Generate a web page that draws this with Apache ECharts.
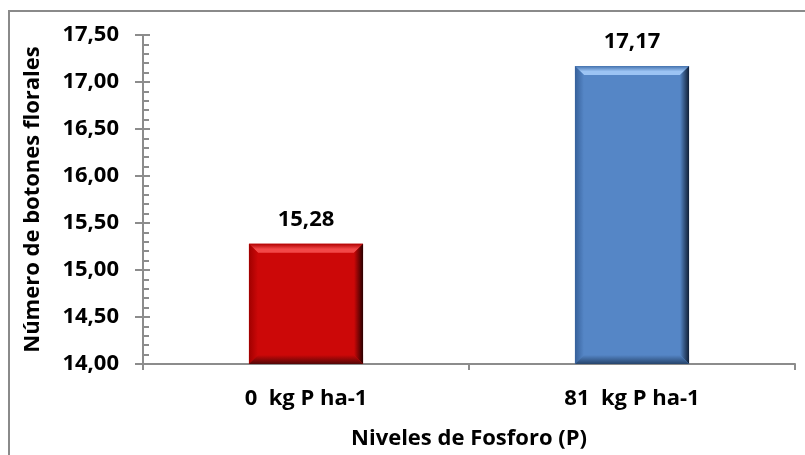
<!DOCTYPE html>
<html>
<head>
<meta charset="utf-8">
<title>Número de botones florales</title>
<script src="https://cdn.jsdelivr.net/npm/echarts@6/dist/echarts.min.js"></script>
<style>
  html, body { margin: 0; padding: 0; background: #ffffff; }
  #chart { width: 805px; height: 455px; }
</style>
</head>
<body>
<div id="chart"></div>
<script>
// Phosphorus levels and the mean number of flower buds per level
const categories = ['0  kg P ha-1', '81  kg P ha-1'];
const values = [15.28, 17.17];

// Axis range and step
const yMin = 14;
const yMax = 17.5;
const yStep = 0.5;

// Bevelled bar palettes: face, top highlight, top edge, left edge, right edge, bottom edge
const palettes = [
  { face: '#CC0808', hi: '#F24848', topEdge: '#B00000', left: '#A00000', right: '#2A0000', bottom: '#520606' },
  { face: '#5586C6', hi: '#9CC4F4', topEdge: '#4472AE', left: '#36609A', right: '#101F36', bottom: '#26446C' }
];

const FONT = '"Open Sans", "Noto Sans", sans-serif';
const AXIS_GREY = '#8C8C8C';
const fmt = v => v.toFixed(2).replace('.', ',');

function grad(x1, y1, x2, y2, stops) {
  return new echarts.graphic.LinearGradient(x1, y1, x2, y2,
    stops.map(s => ({ offset: s[0], color: s[1] })));
}

function renderBar(params, api) {
  const idx = api.value(0);
  const val = api.value(1);
  const topPt = api.coord([idx, val]);
  const basePt = api.coord([idx, yMin]);
  const w = api.size([1, 0])[0] * 0.35;
  const l = topPt[0] - w / 2;
  const r = topPt[0] + w / 2;
  const t = topPt[1];
  const b = basePt[1];
  const d = Math.min(9, w / 2, (b - t) / 2);
  const p = palettes[idx % palettes.length];

  return {
    type: 'group',
    children: [
      { type: 'rect', shape: { x: l, y: t, width: w, height: b - t }, style: { fill: p.face } },
      // top bevel
      { type: 'polygon', shape: { points: [[l, t], [r, t], [r - d, t + d], [l + d, t + d]] },
        style: { fill: grad(0, 0, 0, 1, [[0, p.topEdge], [0.6, p.hi], [1, p.hi]]) } },
      // left bevel
      { type: 'polygon', shape: { points: [[l, t], [l + d, t + d], [l + d, b - d], [l, b]] },
        style: { fill: grad(0, 0, 1, 0, [[0, p.left], [1, p.face]]) } },
      // right bevel
      { type: 'polygon', shape: { points: [[r, t], [r, b], [r - d, b - d], [r - d, t + d]] },
        style: { fill: grad(0, 0, 1, 0, [[0, p.face], [1, p.right]]) } },
      // bottom bevel
      { type: 'polygon', shape: { points: [[l, b], [r, b], [r - d, b - d], [l + d, b - d]] },
        style: { fill: grad(0, 0, 0, 1, [[0, p.face], [1, p.bottom]]) } },
      // value label
      { type: 'text', x: topPt[0], y: t - 13,
        style: { text: fmt(val), fill: '#000', font: 'bold 22px ' + FONT, align: 'center', verticalAlign: 'bottom' } }
    ]
  };
}

const chart = echarts.init(document.getElementById('chart'), null, { renderer: 'canvas' });

const yBase = { type: 'value', min: yMin, max: yMax, interval: yStep, position: 'left', splitLine: { show: false } };

chart.setOption({
  animation: false,
  backgroundColor: '#ffffff',
  grid: { left: 143, right: 10, top: 35, bottom: 91, containLabel: false },
  graphic: [
    { type: 'rect', shape: { x: 9, y: 11, width: 830, height: 480 }, z: -10,
      style: { fill: 'none', stroke: '#8A8A8A', lineWidth: 2 } }
  ],
  xAxis: {
    type: 'category',
    data: categories,
    boundaryGap: true,
    name: 'Niveles de Fosforo (P)',
    nameLocation: 'middle',
    nameGap: 64,
    nameTextStyle: { fontFamily: FONT, fontWeight: 'bold', fontSize: 22, color: '#000' },
    axisLine: { lineStyle: { color: AXIS_GREY, width: 2 } },
    axisTick: { show: true, length: 6, lineStyle: { color: AXIS_GREY, width: 2 } },
    axisLabel: { fontFamily: FONT, fontWeight: 'bold', fontSize: 22, color: '#000', margin: 24 }
  },
  yAxis: [
    Object.assign({}, yBase, {
      name: 'Número de botones florales',
      nameLocation: 'middle',
      nameGap: 99,
      nameTextStyle: { fontFamily: FONT, fontWeight: 'bold', fontSize: 22, color: '#000' },
      axisLine: { show: true, lineStyle: { color: AXIS_GREY, width: 2 } },
      axisTick: { show: true, length: 8, lineStyle: { color: AXIS_GREY, width: 2 } },
      axisLabel: { fontFamily: FONT, fontWeight: 'bold', fontSize: 22, color: '#000', margin: 24, formatter: fmt }
    }),
    Object.assign({}, yBase, {
      axisLine: { show: false },
      axisLabel: { show: false },
      axisTick: { show: true, inside: true, length: 7, lineStyle: { color: AXIS_GREY, width: 2 } },
      minorTick: { show: true, splitNumber: 5, length: 6, lineStyle: { color: AXIS_GREY, width: 2 } }
    })
  ],
  series: [
    {
      type: 'custom',
      yAxisIndex: 0,
      renderItem: renderBar,
      data: values.map((v, i) => [i, v]),
      encode: { x: 0, y: 1 }
    }
  ]
});
</script>
</body>
</html>
